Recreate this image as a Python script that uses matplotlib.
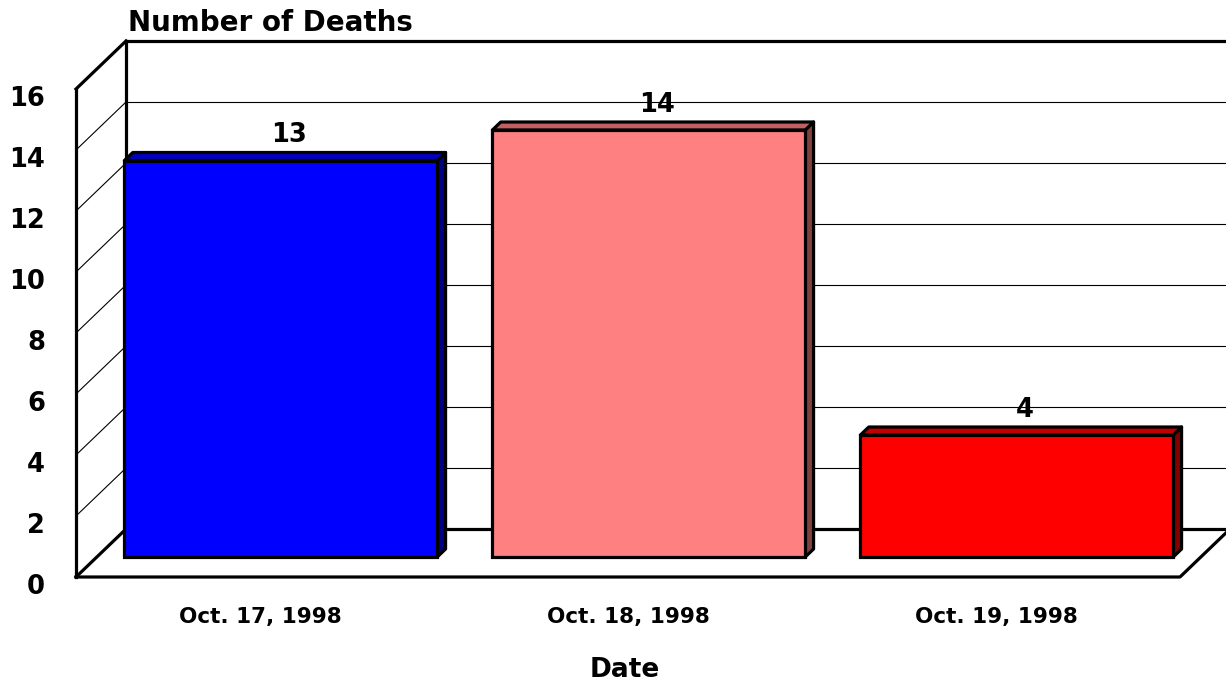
import matplotlib
matplotlib.use("Agg")
import matplotlib.pyplot as plt
import matplotlib.transforms as mtransforms
from matplotlib.patches import Polygon

# data
dates = ["Oct. 17, 1998", "Oct. 18, 1998", "Oct. 19, 1998"]
deaths = [13, 14, 4]
y_ticks = [0, 2, 4, 6, 8, 10, 12, 14, 16]

front_colors = ["#0000FF", "#FF8080", "#FF0000"]
top_colors = ["#0000C0", "#C06060", "#C00000"]
side_colors = ["#000080", "#804040", "#800000"]

W, H = 1226, 686
fig = plt.figure(figsize=(W / 100, H / 100), dpi=100)
fig.patch.set_facecolor("white")

# front plane of the box (floor front edge .. top of left wall)
ax_l, ax_b, ax_w, ax_h = 76, 109, 1104, 488
ax = fig.add_axes([ax_l / W, ax_b / H, ax_w / W, ax_h / H])
ax.set_xlim(-0.5, 2.5)
ax.set_ylim(0, 16)
ax.axis("off")

# depth of the box (pixels -> data units)
depth_px = (50, 48)
DX = depth_px[0] * 3 / ax_w
DY = depth_px[1] * 16 / ax_h
t_front, t_back = 20 / 48, 28 / 48   # where the bars sit in depth
bar_w = 0.85

thick = 2.3
thin = 0.8
kw = dict(color="black", clip_on=False, solid_capstyle="projecting")

x0, x1 = -0.5, 2.5
ymax = 16

# back wall gridlines + matching lines on the left wall
for v in y_ticks[1:-1]:
    ax.plot([x0 + DX, x1 + DX + 0.1], [v + DY, v + DY], lw=thin, **kw)
    ax.plot([x0, x0 + DX], [v, v + DY], lw=thin, **kw)

# back wall frame
ax.plot([x0 + DX, x1 + DX + 0.1], [ymax + DY, ymax + DY], lw=thick, **kw)
ax.plot([x0 + DX, x0 + DX], [DY, ymax + DY], lw=thick, **kw)
ax.plot([x0 + DX, x1 + DX + 0.1], [DY, DY], lw=thick, **kw)

# left wall + floor
ax.plot([x0, x0], [0, ymax], lw=thick, **kw)
ax.plot([x0, x0 + DX], [ymax, ymax + DY], lw=thick, **kw)
ax.plot([x0, x0 + DX], [0, DY], lw=thick, **kw)
ax.plot([x0, x1, x1 + DX], [0, 0, DY], lw=thick, **kw)

# bars
xs = list(range(len(dates)))
bx = [x + t_front * DX for x in xs]
ax.bar(bx, deaths, width=bar_w, bottom=t_front * DY,
       color=front_colors, edgecolor="black", linewidth=thick,
       joinstyle="miter", zorder=5, clip_on=False)

ddx = (t_back - t_front) * DX
ddy = (t_back - t_front) * DY
lab_tr = mtransforms.offset_copy(ax.transData, fig, x=0, y=4, units="dots")
for i, v in enumerate(deaths):
    left = bx[i] - bar_w / 2
    right = bx[i] + bar_w / 2
    base = t_front * DY
    top = base + v
    side = Polygon([(right, base), (right + ddx, base + ddy),
                    (right + ddx, top + ddy), (right, top)],
                   closed=True, facecolor=side_colors[i], edgecolor="black",
                   linewidth=thick, joinstyle="round", zorder=4, clip_on=False)
    cap = Polygon([(left, top), (left + ddx, top + ddy),
                   (right + ddx, top + ddy), (right, top)],
                  closed=True, facecolor=top_colors[i], edgecolor="black",
                  linewidth=thick, joinstyle="round", zorder=4, clip_on=False)
    ax.add_patch(side)
    ax.add_patch(cap)
    ax.text(xs[i] + t_back * DX, v + t_back * DY, str(v), transform=lab_tr,
            ha="center", va="bottom", fontsize=18.5, fontweight="bold",
            family="DejaVu Sans", zorder=6)

# y tick labels on the front edge
ytr = mtransforms.offset_copy(ax.transData, fig, x=-31, y=-10, units="dots")
for v in y_ticks:
    ax.text(x0, v, str(v), transform=ytr, ha="right", va="center",
            fontsize=18.5, fontweight="bold", family="DejaVu Sans")

# category labels
xtr = mtransforms.offset_copy(ax.transData, fig, x=0, y=-40, units="dots")
for i, d in enumerate(dates):
    ax.text(xs[i], 0, d, transform=xtr, ha="center", va="center",
            fontsize=15.5, fontweight="bold", family="DejaVu Sans")

fig.text(128 / W, 1 - 31 / H, "Number of Deaths", ha="left", va="baseline",
         fontsize=20, fontweight="bold", family="DejaVu Sans")
fig.text(625 / W, 1 - 670 / H, "Date", ha="center", va="center",
         fontsize=19, fontweight="bold", family="DejaVu Sans")

fig.savefig("out.png", dpi=100, facecolor="white")
